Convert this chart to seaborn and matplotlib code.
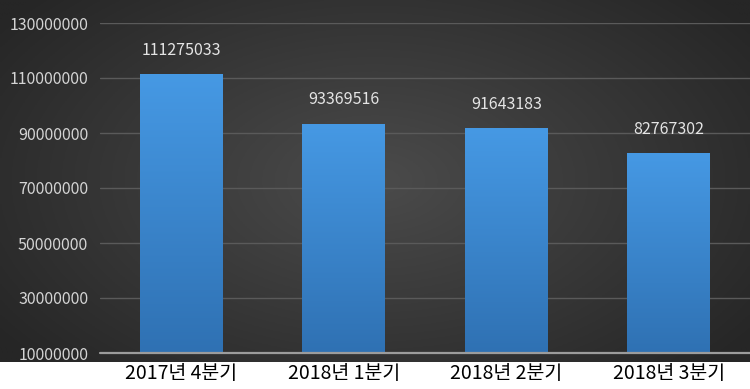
import numpy as np
import pandas as pd
import matplotlib
matplotlib.use("Agg")
import matplotlib.pyplot as plt
import seaborn as sns
from matplotlib.colors import LinearSegmentedColormap

categories = ["2017년 4분기", "2018년 1분기", "2018년 2분기", "2018년 3분기"]
values = [111275033, 93369516, 91643183, 82767302]
y_ticks = [10000000, 30000000, 50000000, 70000000, 90000000, 110000000, 130000000]

sns.set_theme(style="white")
plt.rcParams['font.family'] = ['Noto Sans CJK KR', 'DejaVu Sans']

W, H = 750, 389
fig = plt.figure(figsize=(W / 100, H / 100), dpi=100)
fig.patch.set_facecolor("white")

# dark radial-gradient background
bg = fig.add_axes([0, 27 / H, 1, 362 / H])
bg.set_axis_off()
xx, yy = np.meshgrid(np.linspace(0, 1, 300), np.linspace(0, 1, 200))
r = np.sqrt(((xx - 0.5) / 0.62) ** 2 + ((yy - 0.5) / 0.75) ** 2)
r = np.clip(r, 0, 1)
c_in = np.array([0x4b, 0x4b, 0x4b]) / 255
c_out = np.array([0x26, 0x26, 0x26]) / 255
img = c_in[None, None, :] * (1 - r[..., None]) + c_out[None, None, :] * r[..., None]
bg.imshow(img, aspect="auto", extent=[0, 1, 0, 1], origin="lower")
bg.set_xlim(0, 1)
bg.set_ylim(0, 1)

ax = fig.add_axes([100 / W, 36 / H, 650 / W, 330 / H])
ax.patch.set_alpha(0)

df = pd.DataFrame({"cat": categories, "val": values})
sns.barplot(data=df, x="cat", y="val", ax=ax, color="#3a86d0", width=0.51,
            saturation=1, zorder=3, edgecolor="none", linewidth=0)

ax.set_ylim(10000000, 130000000)
ax.set_xlim(-0.5, len(categories) - 0.5)
ax.set_yticks(y_ticks)
ax.set_yticklabels([str(v) for v in y_ticks])
ax.tick_params(axis="y", length=0, pad=8.5, labelsize=11.5, labelcolor="#d4d4d4")
ax.tick_params(axis="x", length=0, pad=7, labelsize=14, labelcolor="#000000")
ax.set_xlabel("")
ax.set_ylabel("")
for s in ax.spines.values():
    s.set_visible(False)

for t in y_ticks[1:]:
    ax.axhline(t, color="#5a5a5a", lw=1, zorder=1)
ax.axhline(y_ticks[0], color="#9c9c9c", lw=1.6, zorder=4, clip_on=False)

# vertical gradient on bars
cmap = LinearSegmentedColormap.from_list("barg", ["#2f71b3", "#4699e4"])
grad = np.linspace(0, 1, 256).reshape(-1, 1)
ylo = ax.get_ylim()[0]
for p in ax.patches:
    x0, y0 = p.get_x(), max(p.get_y(), ylo)
    x1, y1 = x0 + p.get_width(), p.get_y() + p.get_height()
    im = ax.imshow(grad, cmap=cmap, aspect="auto", origin="lower",
                   extent=[x0, x1, y0, y1], zorder=3.5)
    im.set_clip_path(p)

for i, v in enumerate(values):
    ax.annotate(str(v), (i, v), xytext=(0, 11), textcoords="offset points",
                ha="center", va="bottom", fontsize=11.5, color="#e4e4e4")

ax.set_xlim(-0.5, len(categories) - 0.5)
ax.set_ylim(10000000, 130000000)

fig.savefig("out.png", dpi=100)
